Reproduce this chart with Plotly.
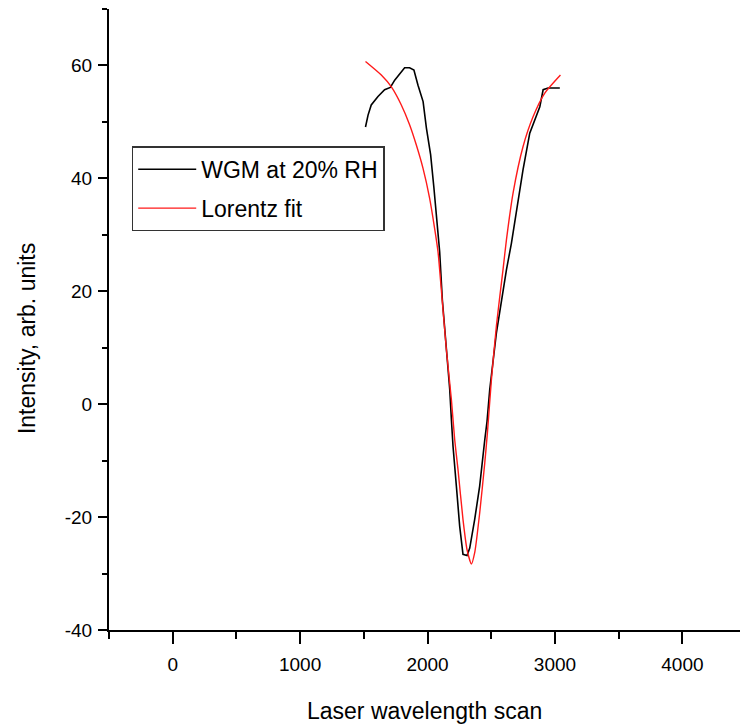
import plotly.graph_objects as go

wgm_x = [1513, 1533, 1558, 1611, 1663, 1708, 1742, 1781, 1820, 1859, 1893, 1925, 1965, 1991,
         2024, 2050, 2077, 2095, 2116, 2148, 2174, 2187, 2200, 2226, 2252, 2278, 2310, 2331,
         2370, 2409, 2435, 2449, 2467, 2488, 2540, 2580, 2619, 2658, 2698, 2749, 2802, 2841,
         2881, 2907, 2946, 3038]
wgm_y = [49.1, 51.2, 53.0, 54.5, 55.7, 56.1, 57.4, 58.6, 59.6, 59.6, 59.2, 56.5, 53.6, 48.9,
         44.2, 38.3, 31.0, 27.0, 18.5, 9.6, 2.6, -2.7, -7.5, -14.5, -21.6, -26.6, -26.8, -25.5,
         -20.4, -14.5, -8.6, -6.3, -3.0, 2.6, 12.6, 18.5, 23.8, 28.5, 34.4, 41.5, 48.0, 50.4,
         52.7, 55.7, 56.0, 56.0]

# Lorentz fit curve
fit_x = [1513, 1637, 1716, 1794, 1859, 1912, 1964, 2016, 2055, 2082, 2108, 2148, 2187, 2213,
         2239, 2278, 2310, 2344, 2370, 2409, 2449, 2470, 2501, 2540, 2567, 2592, 2619, 2671,
         2749, 2828, 2920, 3043]
fit_y = [60.7, 58.3, 56.2, 53.0, 49.5, 45.9, 41.8, 36.5, 31.2, 27.0, 20.3, 9.6, 0.8, -6.3,
         -11.6, -20.4, -25.8, -28.3, -26.3, -19.3, -10.4, -5.0, 4.3, 13.8, 19.1, 23.8, 29.1, 37.4,
         45.6, 50.9, 55.1, 58.3]

x_ticks = [0, 1000, 2000, 3000, 4000]
y_ticks = [-40, -20, 0, 20, 40, 60]

FONT = "Liberation Sans, Arial, sans-serif"

fig = go.Figure()
fig.add_trace(go.Scatter(x=wgm_x, y=wgm_y, mode="lines", name="WGM at 20% RH",
                         legendgroup="a",
                         line=dict(color="black", width=1.6)))
fig.add_trace(go.Scatter(x=fit_x, y=fit_y, mode="lines", name="Lorentz fit",
                         legendgroup="b",
                         line=dict(color="#ff1a1a", width=1.4, shape="spline", smoothing=0.6)))

fig.update_layout(
    width=740, height=725,
    margin=dict(l=109, r=0, t=9, b=95),
    paper_bgcolor="white", plot_bgcolor="white",
    font=dict(family=FONT, color="black"),
    showlegend=True,
    legend=dict(x=0.036, y=0.779, xanchor="left", yanchor="top",
                bordercolor="#333333", borderwidth=1.5, bgcolor="white",
                font=dict(size=23, family=FONT), tracegroupgap=6,
                traceorder="grouped", itemwidth=58),
    xaxis=dict(range=[-500, 4452], tickvals=x_ticks, ticktext=[str(v) for v in x_ticks],
               showgrid=False, zeroline=False, showline=True, linecolor="black", linewidth=2,
               ticks="outside", ticklen=12, tickwidth=2, tickcolor="black",
               tickfont=dict(size=19, family=FONT), ticklabelstandoff=4,
               minor=dict(dtick=500, tick0=-500, ticks="outside", ticklen=7, tickwidth=2,
                          tickcolor="black", showgrid=False)),
    yaxis=dict(range=[-40, 70], tickvals=y_ticks, ticktext=[str(v) for v in y_ticks],
               showgrid=False, zeroline=False, showline=True, linecolor="black", linewidth=2,
               ticks="outside", ticklen=9, tickwidth=2, tickcolor="black",
               tickfont=dict(size=19, family=FONT), ticklabelstandoff=2,
               minor=dict(dtick=10, tick0=-40, ticks="outside", ticklen=5, tickwidth=2,
                          tickcolor="black", showgrid=False)),
    annotations=[
        dict(text="Laser wavelength scan", xref="paper", yref="paper", x=0.5, y=-0.131,
             xanchor="center", yanchor="middle", showarrow=False,
             font=dict(size=23, family=FONT)),
        dict(text="Intensity, arb. units", xref="paper", yref="paper", x=-0.13, y=0.47,
             xanchor="center", yanchor="middle", showarrow=False, textangle=-90,
             font=dict(size=23, family=FONT)),
    ],
)

fig.write_html("out.html")
